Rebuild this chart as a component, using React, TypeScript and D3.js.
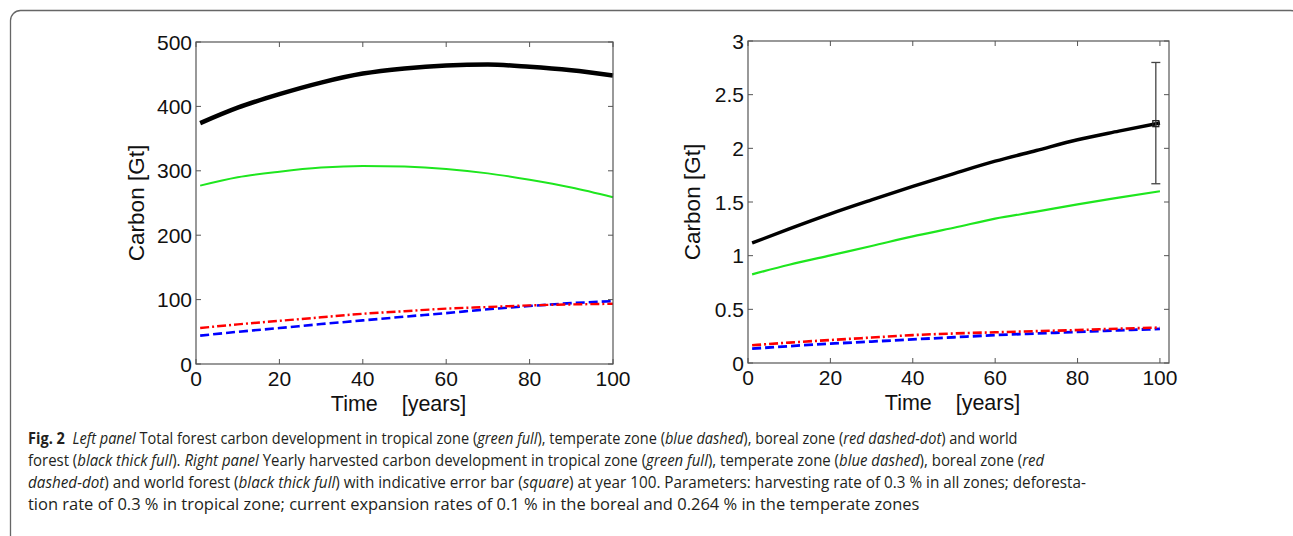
import React, { useLayoutEffect, useRef, useState } from "react";
import * as d3 from "d3";

// ---- data ----
const years = [1, 10, 20, 30, 40, 50, 60, 70, 80, 90, 100];

// Left panel: total forest carbon [Gt]
const leftWorld = [374, 398, 419, 437, 451, 459, 463.6, 465, 461.5, 456, 448];
const leftTropical = [277, 290, 298.7, 305, 307.5, 306.5, 302.8, 296, 286, 274, 259];
const leftTemperate = [44, 50, 55.8, 62, 67.7, 73.5, 79, 85, 90, 94.5, 97.5];
const leftBoreal = [56, 61.5, 67, 72.5, 78, 82, 86, 88.5, 91, 92.5, 93.5];

// Right panel: yearly harvested carbon [Gt]
const rightWorld = [1.118, 1.25, 1.39, 1.52, 1.646, 1.765, 1.88, 1.98, 2.08, 2.16, 2.236];
const rightTropical = [0.826, 0.915, 1.003, 1.09, 1.18, 1.26, 1.345, 1.41, 1.478, 1.54, 1.6];
const rightTemperate = [0.134, 0.157, 0.18, 0.2, 0.22, 0.24, 0.26, 0.275, 0.29, 0.305, 0.317];
const rightBoreal = [0.165, 0.19, 0.214, 0.237, 0.26, 0.275, 0.286, 0.297, 0.307, 0.32, 0.33];

// error bar at year 99 (right panel)
const errX = 99;
const errMid = 2.23;
const errLow = 1.67;
const errHigh = 2.8;

const xTicks = [0, 20, 40, 60, 80, 100];
const leftYTicks = [0, 100, 200, 300, 400, 500];
const rightYTicks = [0, 0.5, 1, 1.5, 2, 2.5, 3];

const xLabel = "Time    [years]";
const yLabel = "Carbon [Gt]";

type Seg = { t: string; s?: "b" | "i" };
const captionLines: Seg[][] = [
  [
    { t: "Fig. 2", s: "b" },
    { t: "  " },
    { t: "Left panel", s: "i" },
    { t: " Total forest carbon development in tropical zone (" },
    { t: "green full", s: "i" },
    { t: "), temperate zone (" },
    { t: "blue dashed", s: "i" },
    { t: "), boreal zone (" },
    { t: "red dashed-dot", s: "i" },
    { t: ") and world" },
  ],
  [
    { t: "forest (" },
    { t: "black thick full", s: "i" },
    { t: "). " },
    { t: "Right panel", s: "i" },
    { t: " Yearly harvested carbon development in tropical zone (" },
    { t: "green full", s: "i" },
    { t: "), temperate zone (" },
    { t: "blue dashed", s: "i" },
    { t: "), boreal zone (" },
    { t: "red", s: "i" },
  ],
  [
    { t: "dashed-dot", s: "i" },
    { t: ") and world forest (" },
    { t: "black thick full", s: "i" },
    { t: ") with indicative error bar (" },
    { t: "square", s: "i" },
    { t: ") at year 100. Parameters: harvesting rate of 0.3 % in all zones; deforesta-" },
  ],
  [
    {
      t: "tion rate of 0.3 % in tropical zone; current expansion rates of 0.1 % in the boreal and 0.264 % in the temperate zones",
    },
  ],
];
const captionWidths = [990, 1017, 1059, 892];

type Series = { values: number[]; color: string; width: number; dash?: string };

type PanelProps = {
  x0: number;
  x1: number;
  y0: number;
  y1: number;
  xMax: number;
  yMax: number;
  yTicks: number[];
  series: Series[];
  yLabelX: number;
  errorBar?: boolean;
};

const AXIS = "#555";
const FONT = "'Liberation Sans', Arial, Helvetica, sans-serif";

function Panel(p: PanelProps) {
  const x = d3.scaleLinear().domain([0, p.xMax]).range([p.x0, p.x1]);
  const y = d3.scaleLinear().domain([0, p.yMax]).range([p.y1, p.y0]);
  const line = d3
    .line<number>()
    .x((_, i) => x(years[i]))
    .y((d) => y(d))
    .curve(d3.curveMonotoneX);
  const tl = 5;
  return (
    <g>
      {p.series.map((s, i) => (
        <path
          key={i}
          d={line(s.values) || ""}
          fill="none"
          stroke={s.color}
          strokeWidth={s.width}
          strokeDasharray={s.dash}
          strokeLinejoin="round"
        />
      ))}
      {p.errorBar && (
        <g stroke="#444" strokeWidth={1.3} fill="none">
          <line x1={x(errX)} x2={x(errX)} y1={y(errHigh)} y2={y(errLow)} />
          <line x1={x(errX) - 4.5} x2={x(errX) + 4.5} y1={y(errHigh)} y2={y(errHigh)} />
          <line x1={x(errX) - 4.5} x2={x(errX) + 4.5} y1={y(errLow)} y2={y(errLow)} />
          <rect x={x(errX) - 3} y={y(errMid) - 3} width={6} height={6} stroke="#222" />
        </g>
      )}
      <rect
        x={p.x0}
        y={p.y0}
        width={p.x1 - p.x0}
        height={p.y1 - p.y0}
        fill="none"
        stroke={AXIS}
        strokeWidth={1.2}
      />
      {xTicks.map((t) => (
        <g key={"x" + t}>
          <line x1={x(t)} x2={x(t)} y1={p.y1} y2={p.y1 - tl} stroke={AXIS} />
          <line x1={x(t)} x2={x(t)} y1={p.y0} y2={p.y0 + tl} stroke={AXIS} />
          <text
            x={x(t)}
            y={p.y1 + 22}
            textAnchor="middle"
            fontFamily={FONT}
            fontSize={21}
            fill="#111"
          >
            {String(t)}
          </text>
        </g>
      ))}
      {p.yTicks.map((t) => (
        <g key={"y" + t}>
          <line x1={p.x0} x2={p.x0 + tl} y1={y(t)} y2={y(t)} stroke={AXIS} />
          <line x1={p.x1} x2={p.x1 - tl} y1={y(t)} y2={y(t)} stroke={AXIS} />
          <text
            x={p.x0 - 4}
            y={y(t) + 7.5}
            textAnchor="end"
            fontFamily={FONT}
            fontSize={21}
            fill="#111"
          >
            {String(t)}
          </text>
        </g>
      ))}
      <text
        x={(p.x0 + p.x1) / 2 - 6}
        y={p.y1 + 47}
        textAnchor="middle"
        fontFamily={FONT}
        fontSize={21.5}
        fill="#111"
        style={{ whiteSpace: "pre" }}
      >
        {xLabel}
      </text>
      <text
        transform={`translate(${p.yLabelX},${(p.y0 + p.y1) / 2}) rotate(-90)`}
        textAnchor="middle"
        fontFamily={FONT}
        fontSize={22.5}
        fill="#111"
      >
        {yLabel}
      </text>
    </g>
  );
}

function Caption() {
  const refs = useRef<(SVGTextElement | null)[]>([]);
  const [scales, setScales] = useState<number[]>(captionLines.map(() => 1));
  useLayoutEffect(() => {
    const s = captionLines.map((_, i) => {
      const el = refs.current[i];
      if (!el) return 1;
      const w = el.getComputedTextLength();
      return w > 0 ? captionWidths[i] / w : 1;
    });
    setScales(s);
  }, []);
  return (
    <g>
      {captionLines.map((segs, i) => (
        <text
          key={i}
          ref={(el) => {
            refs.current[i] = el;
          }}
          transform={`translate(28,${444 + i * 22}) scale(${scales[i]},1)`}
          fontFamily="'Open Sans', 'Noto Sans', sans-serif"
          fontSize={16.5}
          fill="#231f20"
          style={{ whiteSpace: "pre" }}
        >
          {segs.map((s, j) => (
            <tspan
              key={j}
              fontWeight={s.s === "b" ? 700 : 400}
              fontStyle={s.s === "i" ? "italic" : "normal"}
            >
              {s.t}
            </tspan>
          ))}
        </text>
      ))}
    </g>
  );
}

export default function App() {
  return (
    <svg
      width={1293}
      height={536}
      style={{ position: "absolute", left: 0, top: 0, background: "#fff" }}
    >
      <rect x={0} y={0} width={1293} height={536} fill="#fff" />
      <rect x={10.5} y={10.5} width={1290} height={600} rx={10} fill="none" stroke="#666" strokeWidth={1.3} />
      <Panel
        x0={196}
        x1={613}
        y0={42}
        y1={364}
        xMax={100}
        yMax={500}
        yTicks={leftYTicks}
        yLabelX={144}
        series={[
          { values: leftTropical, color: "#1ee61e", width: 2 },
          { values: leftTemperate, color: "#0000ff", width: 2.6, dash: "9 4" },
          { values: leftBoreal, color: "#ff0000", width: 2.4, dash: "9 3 2 3" },
          { values: leftWorld, color: "#000", width: 4.5 },
        ]}
      />
      <Panel
        x0={748}
        x1={1169}
        y0={41}
        y1={363}
        xMax={102.2}
        yMax={3}
        yTicks={rightYTicks}
        yLabelX={700}
        errorBar
        series={[
          { values: rightTropical, color: "#1ee61e", width: 2.2 },
          { values: rightTemperate, color: "#0000ff", width: 2.8, dash: "9 4" },
          { values: rightBoreal, color: "#ff0000", width: 2.6, dash: "9 3 2 3" },
          { values: rightWorld, color: "#000", width: 3.4 },
        ]}
      />
      <Caption />
    </svg>
  );
}
